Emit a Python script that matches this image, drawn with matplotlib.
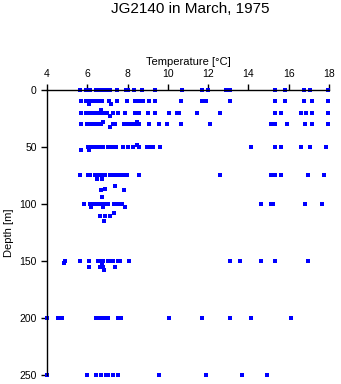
import matplotlib
matplotlib.use("Agg")
import matplotlib.pyplot as plt

# ── data: temperature readings per depth level ───────────────────────────────

depth_levels = [0, 10, 12, 18, 20, 23, 28, 30, 33, 48, 50, 53, 75, 78, 84, 87, 88, 94,
                100, 103, 108, 111, 115, 150, 152, 155, 158, 200, 250]

temps_by_level = [
    [5.64, 5.94, 6.13, 6.45, 6.55, 6.65, 6.75, 6.85, 6.93, 7.13, 7.48, 7.92, 8.02, 8.32,
     8.72, 9.36, 10.69, 11.70, 12.00, 12.90, 13.10, 15.30, 15.83, 16.75, 17.04, 17.97],   # 0
    [5.70, 5.95, 6.05, 6.15, 6.25, 6.35, 6.45, 6.55, 6.65, 6.75, 7.08, 7.48, 7.97, 8.37,
     8.50, 8.62, 8.77, 9.06, 9.36, 10.67, 11.68, 11.90, 13.10, 15.33, 15.83, 16.75,
     17.14, 17.95],                                                                     # 10
    [6.07, 7.18],                                                                       # 12
    [6.68],                                                                             # 18
    [5.70, 5.94, 6.05, 6.15, 6.25, 6.35, 6.45, 6.55, 6.65, 6.75, 6.85, 6.96, 7.26, 7.54,
     7.87, 8.37, 8.55, 9.03, 9.38, 10.07, 10.47, 10.57, 11.46, 12.60, 15.33, 15.63,
     16.63, 16.85, 17.16, 17.95],                                                       # 20
    [7.13],                                                                             # 23
    [6.77, 8.48],                                                                       # 28
    [5.70, 6.00, 6.10, 6.20, 6.30, 6.40, 6.50, 6.60, 6.70, 7.26, 7.38, 7.82, 7.99, 8.10,
     8.20, 8.30, 8.42, 8.58, 9.08, 9.58, 9.97, 10.67, 12.11, 15.14, 15.33, 15.93, 16.83,
     17.14, 17.97],                                                                     # 30
    [7.13],                                                                             # 33
    [8.48],                                                                             # 48
    [6.05, 6.22, 6.32, 6.42, 6.52, 6.62, 6.72, 6.80, 7.05, 7.15, 7.25, 7.35, 7.43, 7.76,
     8.04, 8.29, 8.58, 8.98, 9.11, 9.25, 9.63, 14.11, 15.33, 15.63, 16.63, 17.03, 17.84],  # 50
    [5.70, 6.08],                                                                       # 53
    [5.65, 6.05, 6.12, 6.38, 6.45, 6.55, 6.62, 6.70, 6.80, 6.88, 7.13, 7.22, 7.29, 7.46,
     7.59, 7.76, 7.85, 7.99, 8.55, 12.61, 15.14, 15.33, 15.63, 16.93, 17.75],           # 75
    [6.50, 6.73],                                                                       # 78
    [7.39],                                                                             # 84
    [6.90],                                                                             # 87
    [6.70, 7.84],                                                                       # 88
    [6.75],                                                                             # 94
    [5.85, 6.13, 6.35, 6.55, 6.62, 6.68, 6.85, 7.05, 7.34, 7.54, 7.62, 7.70, 14.61,
     15.14, 15.24, 16.83, 17.64],                                                       # 100
    [6.18, 6.80, 7.89],                                                                 # 103
    [7.31],                                                                             # 108
    [6.65, 6.88, 7.14],                                                                 # 111
    [6.85],                                                                             # 115
    [4.90, 5.65, 6.10, 6.55, 6.62, 6.70, 6.80, 7.04, 7.12, 7.20, 7.26, 7.54, 7.62, 8.05,
     13.10, 13.60, 14.61, 15.33, 16.93],                                                # 150
    [4.86, 6.75],                                                                       # 152
    [6.09, 6.63, 6.72, 6.80, 7.36],                                                     # 155
    [6.85],                                                                             # 158
    [4.02, 4.56, 4.65, 4.73, 6.43, 6.52, 6.61, 6.70, 6.79, 6.88, 7.05, 7.54, 7.60, 7.66,
     10.07, 11.68, 13.09, 14.11, 16.13],                                                # 200
    [4.02, 5.97, 6.43, 6.67, 6.93, 7.04, 7.26, 7.54, 9.58, 11.91, 13.68, 14.93],        # 250
]

x_ticks = [4, 6, 8, 10, 12, 14, 16, 18]
y_ticks = [0, 50, 100, 150, 200, 250]

# ── plot ──────────────────────────────────────────────────────────────────────

plt.rcParams["font.family"] = ["Liberation Sans", "DejaVu Sans"]

temps, depths = [], []
for d, ts in zip(depth_levels, temps_by_level):
    temps.extend(ts)
    depths.extend([d] * len(ts))

fig = plt.figure(figsize=(3.41, 3.84), dpi=100)
ax = fig.add_axes([0.138, 0.0234, 0.827, 0.7426])

ax.plot(temps, depths, linestyle="none", marker="s", markersize=2.4,
        color="#0000ff", markeredgewidth=0, clip_on=False)

ax.set_xlim(4, 18)
ax.set_ylim(250, 0)
ax.set_xticks(x_ticks)
ax.set_yticks(y_ticks)

ax.xaxis.tick_top()
ax.xaxis.set_label_position("top")
ax.spines["bottom"].set_visible(False)
ax.spines["right"].set_visible(False)
for s in ("top", "left"):
    ax.spines[s].set_linewidth(1.0)

ax.tick_params(axis="both", direction="out", length=4, width=1.0,
               labelsize=7.5, pad=3.5)
ax.set_xlabel("Temperature [°C]", fontsize=8, labelpad=3)
ax.set_ylabel("Depth [m]", fontsize=8, labelpad=4)

fig.text(190 / 341, 1 - 9 / 384, "JG2140 in March, 1975",
         ha="center", va="center", fontsize=11)

fig.savefig("out.png", dpi=100)
plt.close(fig)
